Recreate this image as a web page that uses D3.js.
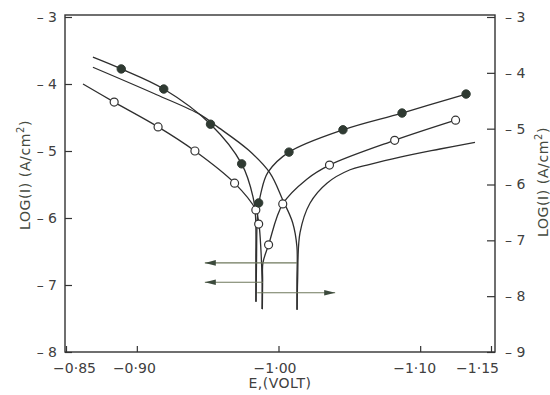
<!DOCTYPE html>
<html>
<head>
<meta charset="utf-8">
<script src="https://cdn.jsdelivr.net/npm/d3@7"></script>
<style>
  body { margin: 0; background: #fff; }
  svg { font-family: "DejaVu Sans", sans-serif; }
  .tick text { fill: #404040; font-size: 14px; font-family: "DejaVu Sans", sans-serif; }
  .tick line { stroke: #333; stroke-width: 1.2; }
</style>
</head>
<body>
<svg id="chart" width="550" height="395"></svg>
<script>
// axis ticks and labels
var E_TICKS = [-0.85, -0.90, -1.00, -1.10, -1.15];
var E_LABELS = ["\u22120\u00b785", "\u22120\u00b790", "\u22121\u00b700", "\u22121\u00b710", "\u22121\u00b715"];
var LEFT_TICKS = [-3, -4, -5, -6, -7, -8];
var RIGHT_TICKS = [-3, -4, -5, -6, -7, -8, -9];

// [E (V), log I]  -- filled circles, read on right axis
var filledAnodicLine = [[-0.869, -3.72], [-0.889, -3.93], [-0.919, -4.29], [-0.952, -4.92], [-0.974, -5.63],
  [-0.982, -6.22], [-0.9838, -6.58], [-0.9840, -7.35], [-0.9840, -8.10]];
var filledCathodicLine = [[-0.9842, -8.10], [-0.9845, -7.35], [-0.9852, -6.55], [-0.9876, -6.15], [-0.9926, -5.78],
  [-1.0074, -5.42], [-1.0455, -5.02], [-1.0872, -4.72], [-1.1324, -4.38]];
var filledPoints = [[-0.889, -3.93], [-0.919, -4.29], [-0.952, -4.92], [-0.974, -5.63], [-0.986, -6.33],
  [-1.0074, -5.42], [-1.0455, -5.02], [-1.0872, -4.72], [-1.1324, -4.38]];

// open circles, read on left axis
var openAnodicLine = [[-0.862, -4.00], [-0.884, -4.27], [-0.915, -4.64], [-0.941, -5.00], [-0.969, -5.48],
  [-0.984, -5.88], [-0.9862, -6.09], [-0.9876, -6.48], [-0.9884, -6.93], [-0.9884, -7.36]];
var openCathodicLine = [[-0.9886, -7.36], [-0.9888, -6.93], [-0.989, -6.67], [-0.993, -6.40], [-1.003, -5.79],
  [-1.020, -5.42], [-1.036, -5.21], [-1.082, -4.84], [-1.125, -4.54]];
var openPoints = [[-0.884, -4.27], [-0.915, -4.64], [-0.941, -5.00], [-0.969, -5.48], [-0.984, -5.88],
  [-0.986, -6.09], [-0.993, -6.40], [-1.003, -5.79], [-1.036, -5.21], [-1.082, -4.84], [-1.125, -4.54]];

// plain curve, read on left axis
var plainAnodicLine = [[-0.869, -3.75], [-0.914, -4.16], [-0.945, -4.46], [-0.957, -4.64], [-0.979, -4.99],
  [-0.994, -5.33], [-1.003, -5.73], [-1.010, -6.07], [-1.013, -6.43], [-1.013, -6.93], [-1.013, -7.37]];
var plainCathodicLine = [[-1.0132, -7.37], [-1.0135, -6.93], [-1.0152, -6.22], [-1.0222, -5.78], [-1.0342, -5.48],
  [-1.0505, -5.28], [-1.0625, -5.21], [-1.0858, -5.09], [-1.114, -4.97], [-1.1387, -4.87]];

// arrows: [E start, E end, log I, axis]
var arrows = [[-1.013, -0.948, -6.67, "left"], [-0.989, -0.948, -6.96, "left"], [-0.985, -1.040, -7.94, "right"]];

var svg = d3.select("#chart");
var box = {left: 65, right: 495, top: 15, bottom: 352};

var x = d3.scaleLinear().domain([-0.85, -1.15]).range([66, 491]);
var yL = d3.scaleLinear().domain([-8, -3]).range([352, 17]);
var yR = d3.scaleLinear().domain([-9, -3]).range([352, 17]);

svg.append("rect")
  .attr("x", box.left).attr("y", box.top)
  .attr("width", box.right - box.left).attr("height", box.bottom - box.top)
  .attr("fill", "none").attr("stroke", "#333").attr("stroke-width", 1.4);

var dash = function (d) { return "\u2013 " + Math.abs(d); };

var gl = svg.append("g").attr("transform", "translate(" + box.left + ",0)")
  .call(d3.axisLeft(yL).tickValues(LEFT_TICKS).tickSizeInner(-7).tickSizeOuter(0).tickPadding(8).tickFormat(dash));
var gr = svg.append("g").attr("transform", "translate(" + box.right + ",0)")
  .call(d3.axisRight(yR).tickValues(RIGHT_TICKS).tickSizeInner(-8).tickSizeOuter(0).tickPadding(10).tickFormat(dash));
var gb = svg.append("g").attr("transform", "translate(0," + box.bottom + ")")
  .call(d3.axisBottom(x).tickValues(E_TICKS).tickSizeInner(-6).tickSizeOuter(0).tickPadding(11)
    .tickFormat(function (d, i) { return E_LABELS[i]; }));
[gl, gr, gb].forEach(function (g) { g.select(".domain").remove(); });
gb.selectAll(".tick text").attr("dx", function (d, i) { return [8, -3, -4, -6, -14][i]; });

// axis titles
function logTitle(g) {
  var t = g.append("text").attr("transform", "rotate(-90)").attr("text-anchor", "middle")
    .attr("fill", "#454a40").style("font-size", "14px").style("letter-spacing", "0.6px");
  t.append("tspan").text("LOG(I) (A/cm");
  t.append("tspan").attr("dy", -6).style("font-size", "10px").text("2");
  t.append("tspan").attr("dy", 6).text(")");
}
logTitle(svg.append("g").attr("transform", "translate(30,175)"));
logTitle(svg.append("g").attr("transform", "translate(548,182)"));

svg.append("text").attr("x", 280).attr("y", 388).attr("text-anchor", "middle")
  .attr("fill", "#404040").style("font-size", "14px").style("letter-spacing", "0.5px").text("E,(VOLT)");

// curves
var lineL = d3.line().x(function (d) { return x(d[0]); }).y(function (d) { return yL(d[1]); })
  .curve(d3.curveCatmullRom.alpha(0.5));
var lineR = d3.line().x(function (d) { return x(d[0]); }).y(function (d) { return yR(d[1]); })
  .curve(d3.curveCatmullRom.alpha(0.5));

var curves = svg.append("g").attr("fill", "none").attr("stroke", "#2e2e2e").attr("stroke-width", 1.3);
[plainAnodicLine, plainCathodicLine, openAnodicLine, openCathodicLine].forEach(function (c) {
  curves.append("path").attr("d", lineL(c));
});
[filledAnodicLine, filledCathodicLine].forEach(function (c) {
  curves.append("path").attr("d", lineR(c));
});

// arrows
arrows.forEach(function (a) {
  var yS = a[3] == "left" ? yL : yR;
  var x0 = x(a[0]), x1 = x(a[1]), yy = yS(a[2]);
  var dir = x1 < x0 ? 1 : -1;
  svg.append("line").attr("x1", x0).attr("x2", x1).attr("y1", yy).attr("y2", yy)
    .attr("stroke", "#6f785c").attr("stroke-width", 1.1);
  svg.append("path")
    .attr("d", "M" + x1 + "," + yy + "L" + (x1 + dir * 11) + "," + (yy - 2.8) + "L" + (x1 + dir * 11) + "," + (yy + 2.8) + "Z")
    .attr("fill", "#3c4a3c");
});

// markers
svg.append("g").selectAll("circle").data(openPoints).join("circle")
  .attr("cx", function (d) { return x(d[0]); }).attr("cy", function (d) { return yL(d[1]); })
  .attr("r", 4).attr("fill", "#fff").attr("stroke", "#333").attr("stroke-width", 1.2);
svg.append("g").selectAll("circle").data(filledPoints).join("circle")
  .attr("cx", function (d) { return x(d[0]); }).attr("cy", function (d) { return yR(d[1]); })
  .attr("r", 4.2).attr("fill", "#2f3a32").attr("stroke", "#2f3a32");
</script>
</body>
</html>
